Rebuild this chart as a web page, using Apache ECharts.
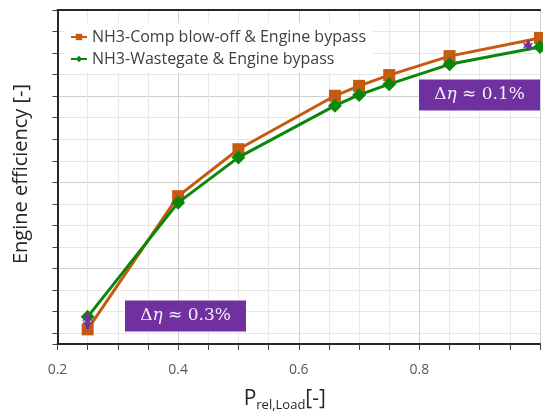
<!DOCTYPE html>
<html>
<head>
<meta charset="utf-8">
<script src="https://cdn.jsdelivr.net/npm/echarts@6/dist/echarts.min.js"></script>
<style>
html, body { margin: 0; padding: 0; background: #fff; }
#chart { width: 543px; height: 417px; }
</style>
</head>
<body>
<div id="chart"></div>
<script>
// relative load and engine efficiency
const loads = [0.25, 0.4, 0.5, 0.66, 0.7, 0.75, 0.85, 1.0]
const compBlowOff = [0.3659, 0.3968, 0.4077, 0.4201, 0.4224, 0.4249, 0.4293, 0.4335]
const wastegate = [0.3688, 0.3953, 0.4058, 0.4178, 0.4203, 0.4228, 0.4274, 0.4314]

// purple delta arrows
const deltaX = [0.25, 0.98]
const deltaTop = [0.3697, 0.4329]
const deltaBottom = [0.3660, 0.4306]
const deltaLabels = ['0.3%', '0.1%']

const font = 'Open Sans'
const axisDark = '#262626'
const gridMajor = '#cfcfcf'
const gridMinor = '#e8e8e8'

const chart = echarts.init(document.getElementById('chart'))

function deltaBox(cx, cy, txt) {
  return {
    type: 'group',
    x: cx,
    y: cy,
    children: [
      {
        type: 'rect',
        z: 100,
        shape: { x: -60.5, y: -15.5, width: 121, height: 31 },
        style: { fill: '#7030A0' }
      },
      {
        type: 'text',
        z: 101,
        style: {
          text: '{d|Δ}{e|η}{d| ≈ ' + txt + '}',
          x: 0,
          y: 0,
          align: 'center',
          verticalAlign: 'middle',
          rich: {
            d: { fontFamily: 'DejaVu Serif', fontSize: 17, fill: '#f4eefa' },
            e: { fontFamily: 'DejaVu Serif', fontSize: 17, fontStyle: 'italic', fill: '#f4eefa' }
          }
        }
      }
    ]
  }
}

const option = {
  animation: false,
  grid: { left: 57.5, top: 10, width: 490, height: 338.5 },
  legend: {
    orient: 'vertical',
    left: 65,
    top: 23,
    backgroundColor: '#fff',
    padding: [6, 7, 6, 5],
    itemGap: 6,
    itemWidth: 16,
    itemHeight: 8,
    selectedMode: false,
    textStyle: { fontFamily: font, fontSize: 16, color: '#404040' }
  },
  xAxis: [
    {
      type: 'value',
      min: 0.2,
      max: 1.0,
      interval: 0.2,
      axisLine: { onZero: false, lineStyle: { color: axisDark, width: 2 } },
      axisTick: { length: 6, lineStyle: { color: '#404040' } },
      minorTick: { show: true, splitNumber: 4, length: 6, lineStyle: { color: '#404040' } },
      axisLabel: {
        color: '#595959',
        fontFamily: font,
        fontSize: 14,
        margin: 19,
        formatter: v => (v >= 1 ? '' : v.toFixed(1))
      },
      splitLine: { lineStyle: { color: gridMajor } },
      minorSplitLine: { show: true, lineStyle: { color: gridMinor } },
      name: '{p|P}{s|rel,Load}{p|[-]}',
      nameLocation: 'middle',
      nameGap: 42,
      nameTextStyle: {
        padding: [0, 28, 0, 0],
        rich: {
          p: { fontFamily: font, fontSize: 21, color: '#262626', lineHeight: 26 },
          s: { fontFamily: font, fontSize: 13, color: '#262626', verticalAlign: 'bottom', lineHeight: 14 }
        }
      }
    },
    {
      type: 'value',
      position: 'top',
      min: 0.2,
      max: 1.0,
      z: 1,
      axisLine: { onZero: false, lineStyle: { color: axisDark, width: 2 } },
      axisTick: { show: false },
      axisLabel: { show: false },
      splitLine: { show: false }
    }
  ],
  yAxis: [
    {
      type: 'value',
      position: 'left',
      min: 0.3625,
      max: 0.44,
      axisLine: { show: true, onZero: false, lineStyle: { color: axisDark, width: 2 } },
      axisTick: { show: false },
      axisLabel: { show: false },
      splitLine: { show: false },
      name: 'Engine efficiency [-]',
      nameLocation: 'middle',
      nameGap: 26,
      nameTextStyle: {
        fontFamily: font,
        fontSize: 20,
        color: '#262626',
        padding: [0, 0, 0, 6]
      }
    },
    {
      // only for ticks and horizontal grid lines
      type: 'value',
      position: 'left',
      offset: 0,
      inverse: true,
      min: 0,
      max: 15.5,
      interval: 1,
      axisLine: { show: false, onZero: false },
      axisTick: { show: true, length: 5, lineStyle: { color: '#404040' } },
      axisLabel: { show: false },
      splitLine: {
        show: true,
        showMaxLine: false,
        lineStyle: { color: [gridMajor, gridMinor, gridMinor, gridMinor] }
      }
    }
  ],
  series: [
    {
      name: 'NH3-Comp blow-off & Engine bypass',
      type: 'line',
      data: loads.map((x, i) => [x, compBlowOff[i]]),
      symbol: 'rect',
      symbolSize: 12,
      color: '#C55A11',
      lineStyle: { width: 3 },
      z: 2
    },
    {
      name: 'NH3-Wastegate & Engine bypass',
      type: 'line',
      data: loads.map((x, i) => [x, wastegate[i]]),
      symbol: 'diamond',
      symbolSize: 14,
      color: '#0a870a',
      lineStyle: { width: 3 },
      z: 3,
      markLine: {
        silent: true,
        symbol: ['arrow', 'arrow'],
        symbolSize: [8, 8],
        label: { show: false },
        lineStyle: { color: '#7030A0', width: 3, type: 'solid' },
        emphasis: { disabled: true },
        data: deltaX.map((x, i) => [
          { coord: [x, deltaTop[i]] },
          { coord: [x, deltaBottom[i]] }
        ])
      }
    }
  ],
  graphic: {
    elements: [
      deltaBox(185.5, 316, deltaLabels[0]),
      deltaBox(479.5, 95, deltaLabels[1])
    ]
  }
}

chart.setOption(option)
</script>
</body>
</html>
